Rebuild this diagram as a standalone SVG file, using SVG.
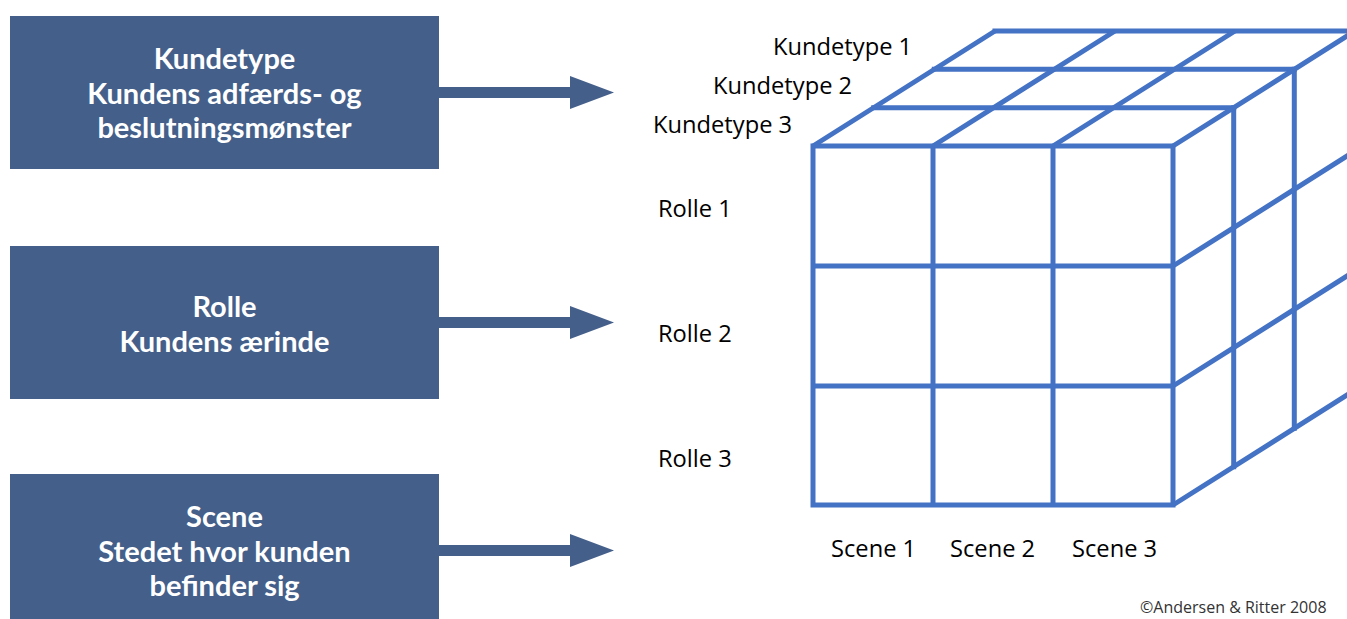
<svg xmlns="http://www.w3.org/2000/svg" width="1347" height="619" viewBox="0 0 1347 619">
  <style>
    .box { fill: #445F8A; }
    .box-text { fill: #FFFFFF; font-family: Lato, "Open Sans", sans-serif; font-weight: bold; font-size: 29px; text-anchor: middle; }
    .arrow { fill: #445F8A; }
    .grid { stroke: #4472C4; stroke-width: 5; fill: none; stroke-linecap: square; stroke-linejoin: miter; }
    .diag { stroke: #4472C4; stroke-width: 5; fill: none; stroke-linecap: butt; }
    .label { fill: #000000; font-family: "Open Sans", "Liberation Sans", sans-serif; font-size: 23.7px; }
    .credit { fill: #333333; font-family: "Open Sans", "Liberation Sans", sans-serif; font-size: 16px; }
  </style>
  <rect width="1347" height="619" fill="#FFFFFF"/>

  <!-- dimension boxes -->
  <g id="node-kundetype">
    <rect class="box" x="10" y="16" width="429" height="153"/>
    <text class="box-text" x="224.5" y="69">Kundetype</text>
    <text class="box-text" x="224.5" y="103.5">Kundens adfærds- og</text>
    <text class="box-text" x="224.5" y="138">beslutningsmønster</text>
  </g>
  <g id="node-rolle">
    <rect class="box" x="10" y="246" width="429" height="153"/>
    <text class="box-text" x="224.5" y="317">Rolle</text>
    <text class="box-text" x="224.5" y="352">Kundens ærinde</text>
  </g>
  <g id="node-scene">
    <rect class="box" x="10" y="474" width="429" height="153"/>
    <text class="box-text" x="224.5" y="527">Scene</text>
    <text class="box-text" x="224.5" y="562">Stedet hvor kunden</text>
    <text class="box-text" x="224.5" y="596">befinder sig</text>
  </g>

  <!-- arrows from boxes to the cube -->
  <g id="connectors">
    <path class="arrow" d="M439,87 H570 V76 L614,92.5 L570,109 V98 H439 Z"/>
    <path class="arrow" d="M439,317 H570 V306 L614,322.5 L570,339 V328 H439 Z"/>
    <path class="arrow" d="M439,545 H570 V534 L614,550.5 L570,567 V556 H439 Z"/>
  </g>

  <!-- 3x3x3 cube: front face, top face, right face -->
  <g id="node-cube">
    <!-- front face -->
    <path class="grid" d="M813,146 H1173 M813,266 H1173 M813,386 H1173 M813,505 H1173
                          M813,146 V505 M933,146 V505 M1053,146 V505 M1173,146 V505"/>
    <!-- top face, rows receding -->
    <path class="grid" d="M873.7,107.7 H1233.7 M934.3,69.3 H1294.3 M995,31 H1355"/>
    <!-- right face, columns receding -->
    <path class="grid" d="M1233.7,107.7 V466.7 M1294.3,69.3 V428.3 M1355,31 V390"/>
    <!-- depth edges -->
    <path class="diag" d="M813,146 L995,31 M933,146 L1115,31 M1053,146 L1235,31 M1173,146 L1355,31
                          M1173,266 L1355,151 M1173,386 L1355,271 M1173,505 L1355,390"/>
  </g>

  <!-- axis labels -->
  <g id="labels">
    <text class="label" x="773" y="55">Kundetype 1</text>
    <text class="label" x="713" y="94">Kundetype 2</text>
    <text class="label" x="653" y="133">Kundetype 3</text>
    <text class="label" x="658" y="217">Rolle 1</text>
    <text class="label" x="658" y="342">Rolle 2</text>
    <text class="label" x="658" y="467">Rolle 3</text>
    <text class="label" x="831" y="557">Scene 1</text>
    <text class="label" x="950" y="557">Scene 2</text>
    <text class="label" x="1072" y="557">Scene 3</text>
  </g>

  <text class="credit" x="1140" y="613">©Andersen &amp; Ritter 2008</text>
</svg>
